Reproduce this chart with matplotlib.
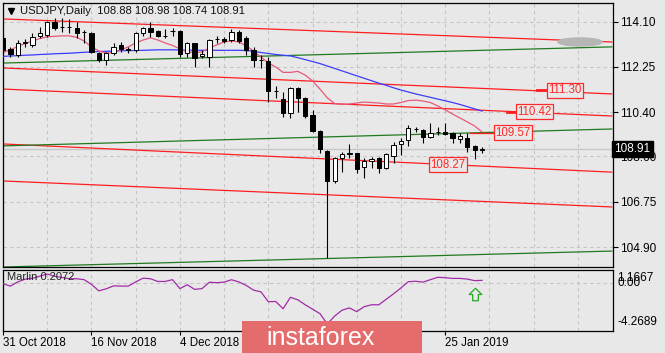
import numpy as np
import pandas as pd
import matplotlib
matplotlib.use("Agg")
import matplotlib.pyplot as plt
import matplotlib.transforms as mtransforms
from matplotlib.patches import Rectangle, Ellipse
from matplotlib.path import Path

plt.rcParams['font.family'] = ['Liberation Sans', 'DejaVu Sans']

# daily bars, 31 Oct 2018 .. 1 Feb 2019 (no bars on 25 Dec and 1 Jan)
days = pd.bdate_range('2018-10-31', '2019-02-01')
days = days[~days.isin(pd.to_datetime(['2018-12-25', '2019-01-01']))]

opens = [113.44, 112.97, 112.74, 113.23, 113.15, 113.52, 113.56, 114.10, 113.90, 113.88,
         113.83, 113.68, 113.65, 112.81, 112.54, 112.81, 113.15, 112.97, 112.95, 113.63,
         113.83, 113.71, 113.52, 113.72, 113.71, 112.82, 113.22, 112.68, 112.64, 113.38,
         113.41, 113.35, 113.69, 113.42, 112.95, 112.52, 112.50, 111.26, 110.95, 110.36,
         111.38, 110.99, 110.29, 109.64, 108.83, 107.60, 108.55, 108.72, 108.73, 108.16,
         108.43, 108.53, 108.12, 108.63, 109.10, 109.27, 109.72, 109.68, 109.38, 109.59,
         109.61, 109.55, 109.30, 109.34, 109.03, 108.88]
highs = [113.60, 113.08, 113.35, 113.38, 113.63, 113.90, 114.13, 114.24, 114.24, 114.20,
         114.10, 113.76, 113.69, 112.88, 112.88, 113.22, 113.28, 113.08, 113.69, 113.90,
         114.10, 113.76, 113.79, 113.86, 113.74, 113.28, 113.24, 112.95, 113.38, 113.52,
         113.48, 113.79, 113.76, 113.52, 113.07, 112.74, 112.67, 111.49, 111.24, 111.45,
         111.45, 111.04, 110.50, 109.66, 108.86, 108.59, 108.79, 109.11, 108.75, 108.53,
         108.57, 108.57, 108.75, 109.20, 109.34, 109.88, 109.81, 109.70, 109.98, 109.81,
         109.98, 109.61, 109.55, 109.57, 109.07, 108.98]
lows = [112.82, 112.67, 112.67, 113.08, 113.08, 113.44, 113.49, 113.76, 113.69, 113.63,
        113.42, 113.23, 112.84, 112.47, 112.33, 112.74, 112.88, 112.81, 112.88, 113.52,
        113.49, 113.46, 113.42, 113.50, 112.67, 112.67, 112.26, 112.61, 112.26, 113.23,
        113.22, 113.28, 113.22, 112.74, 112.26, 112.21, 110.84, 110.97, 110.22, 110.16,
        110.43, 110.16, 109.61, 108.73, 104.44, 107.50, 107.98, 108.53, 107.94, 107.73,
        108.12, 107.94, 108.08, 108.32, 108.66, 109.03, 109.61, 109.14, 109.34, 109.48,
        109.48, 109.16, 109.14, 108.77, 108.48, 108.74]
closes = [112.95, 112.77, 113.22, 113.25, 113.49, 113.63, 114.10, 113.83, 113.88, 113.90,
          113.63, 113.66, 112.88, 112.54, 112.81, 113.08, 112.97, 112.95, 113.63, 113.83,
          113.69, 113.50, 113.53, 113.73, 112.78, 113.22, 112.62, 112.77, 113.35, 113.40,
          113.31, 113.67, 113.31, 112.95, 112.54, 112.54, 111.27, 111.28, 110.36, 111.38,
          110.97, 110.25, 109.64, 108.90, 107.61, 108.53, 108.70, 108.74, 108.09, 108.43,
          108.51, 108.12, 108.70, 109.07, 109.24, 109.75, 109.70, 109.41, 109.57, 109.61,
          109.52, 109.34, 109.44, 109.00, 108.86, 108.91]

ma_fast = [112.84, 112.95, 113.09, 113.21, 113.31, 113.41, 113.48, 113.50, 113.52, 113.52,
           113.46, 113.31, 113.07, 112.90, 112.82, 112.84, 112.95, 113.07, 113.23, 113.35,
           113.44, 113.35, 113.23, 113.13, 112.99, 112.86, 112.84, 112.86, 113.03, 113.15,
           113.27, 113.31, 113.27, 113.11, 112.90, 112.66, 112.41, 112.25, 112.03, 112.03,
           112.07, 111.92, 111.68, 111.35, 110.99, 110.76, 110.72, 110.74, 110.78, 110.82,
           110.80, 110.78, 110.74, 110.74, 110.80, 110.88, 110.90, 110.86, 110.80, 110.66,
           110.50, 110.33, 110.17, 110.01, 109.84, 109.60]
ma_slow = [112.68, 112.70, 112.71, 112.73, 112.74, 112.76, 112.77, 112.79, 112.80, 112.81,
           112.83, 112.85, 112.86, 112.88, 112.89, 112.90, 112.91, 112.92, 112.92, 112.93,
           112.94, 112.95, 112.95, 112.95, 112.94, 112.94, 112.93, 112.93, 112.93, 112.93,
           112.93, 112.93, 112.93, 112.92, 112.89, 112.84, 112.80, 112.76, 112.73, 112.70,
           112.63, 112.55, 112.47, 112.39, 112.29, 112.19, 112.09, 111.99, 111.89, 111.79,
           111.69, 111.59, 111.50, 111.40, 111.31, 111.23, 111.15, 111.08, 111.01, 110.94,
           110.87, 110.80, 110.72, 110.63, 110.54, 110.45]
marlin = [-0.09, -0.30, 0.07, 0.31, 0.39, 0.58, 0.77, 0.57, 0.46, 0.35,
          0.35, 0.27, -0.15, -0.72, -0.54, -0.28, -0.30, -0.30, 0.07, 0.40,
          0.35, 0.11, 0.11, 0.27, -0.52, -0.18, -0.59, -0.52, 0.04, 0.00,
          0.05, 0.26, 0.07, -0.24, -0.66, -0.81, -1.68, -1.66, -2.30, -1.29,
          -1.51, -1.95, -2.34, -2.73, -3.65, -2.95, -2.43, -2.23, -2.56, -2.12,
          -1.95, -1.95, -1.46, -0.98, -0.46, 0.09, 0.13, 0.05, 0.27, 0.48,
          0.44, 0.38, 0.38, 0.32, 0.18, 0.2072]
marlin_max, marlin_min = 1.1667, -4.2689

# trend lines: price at bar 0 and at right edge
line_end_bar = 82.6
red_start = [114.21, 112.21, 111.35, 109.11, 107.60]
red_end = [113.27, 111.15, 110.25, 107.96, 106.54]
green_start = [112.41, 109.03, 104.09]
green_end = [113.07, 109.72, 104.74]

# price labels drawn on the chart
label_text = ['111.30', '110.42', '109.57', '108.27']
label_bar = [76.2, 72.1, 69.2, 60.4]
label_dash = [(72.5, 73.8), (68.4, 69.7), (63.4, 66.6), None]

price_ticks = [114.10, 112.25, 110.40, 108.60, 106.75, 104.90]
last_price = 108.91
signal_bar, signal_val = 64, -1.0
date_ticks = [0, 12, 24, 60]   # the others sit under the logo

bg = '#e8e8e8'
grid_c = '#c4c4c4'

fig = plt.figure(figsize=(6.65, 3.53), dpi=100, facecolor=bg)
ax = fig.add_axes([2.5 / 665, 86 / 353, 610 / 665, 264 / 353])
ax2 = fig.add_axes([2.5 / 665, 22 / 353, 610 / 665, 61.5 / 353])

n = len(opens)
x = np.arange(n)
xlim = (-0.07, 82.7)

for a in (ax, ax2):
    a.set_facecolor(bg)
    a.set_xlim(*xlim)
    for s in a.spines.values():
        s.set_color('black')
        s.set_linewidth(0.9)
    for gx in range(6, 83, 6):
        a.axvline(gx, color=grid_c, lw=0.8, ls=(0, (3, 3)), zorder=0)

ax.set_ylim(104.09, 114.86)
for p in price_ticks:
    ax.axhline(p, color=grid_c, lw=0.8, ls=(0, (3, 3)), zorder=0)
ax.axhline(last_price, color='#c8c8c8', lw=1.0, zorder=1)

# trend lines
for a0, a1 in zip(red_start, red_end):
    ax.plot([0, line_end_bar], [a0, a1], color='#ff1e1e', lw=0.9, zorder=2)
for a0, a1 in zip(green_start, green_end):
    ax.plot([0, line_end_bar], [a0, a1], color='#1f7a1f', lw=0.9, zorder=2)

ax.add_patch(Ellipse((78.3, 113.27), 6.0, 0.33, color='#b6b6b6', zorder=2))

ax.plot(x, ma_slow, color='#3c3cff', lw=0.9, zorder=3)
ax.plot(x, ma_fast, color='#e8587a', lw=0.9, zorder=3)

# candles
o = np.array(opens)
c = np.array(closes)
ax.vlines(x, lows, highs, color='black', lw=0.8, zorder=4)
body_lo = np.minimum(o, c)
body_h = np.maximum(np.abs(c - o), 0.005)
ax.bar(x, body_h, bottom=body_lo, width=0.58,
       color=np.where(c >= o, 'white', 'black'), edgecolor='black', lw=0.7, zorder=5)

# price labels
for t, b, d in zip(label_text, label_bar, label_dash):
    p = float(t)
    if d is not None:
        lw = 0.9 if d[1] - d[0] > 2 else 2.0
        ax.plot(d, [p, p], color='#ff1e1e', lw=lw, zorder=6)
    ax.text(b, p, t, ha='center', va='center', fontsize=8.3, color='#ff2a2a', zorder=7,
            bbox=dict(boxstyle='square,pad=0.12', fc=bg, ec='#ff2a2a', lw=0.9))

ax.yaxis.tick_right()
ax.set_yticks(price_ticks)
ax.set_yticklabels([f'{p:.2f}' for p in price_ticks])
ax.tick_params(axis='y', length=3.5, width=0.8, pad=2, labelsize=8.5, colors='black')
ax.set_xticks([])

trans = mtransforms.blended_transform_factory(ax.transAxes, ax.transData)
ax.text(1.003, last_price, f'{last_price:.2f}', transform=trans, ha='left', va='center',
        fontsize=8.5, color='white', zorder=8, clip_on=False,
        bbox=dict(boxstyle='square,pad=0.18', fc='black', ec='black'))

# title
ax.plot([0.0139], [0.970], marker='v', ms=5, color='black', transform=ax.transAxes, clip_on=False)
ax.text(17.5 / 610, 0.970, 'USDJPY,Daily  108.88 108.98 108.74 108.91', transform=ax.transAxes,
        ha='left', va='center', fontsize=8.1, color='#101010')

# indicator pane
ax2.set_ylim(marlin_min, marlin_max)
ax2.axhline(0, color=grid_c, lw=0.8, ls=(0, (3, 3)), zorder=0)
ax2.plot(x, marlin, color='#a02ca8', lw=0.9, zorder=3)
arrow = Path([(0, 1), (1, 0), (0.45, 0), (0.45, -1), (-0.45, -1), (-0.45, 0), (-1, 0), (0, 1)], closed=True)
ax2.plot([signal_bar], [signal_val], marker=arrow, ms=9, mfc='none', mec='#22aa22', mew=0.9, zorder=4)
ax2.text(4.5 / 610, 0.875, f'Marlin {marlin[-1]:.4f}', transform=ax2.transAxes,
         ha='left', va='center', fontsize=8, color='#202020', zorder=5)

ax2.yaxis.tick_right()
ax2.set_yticks([])
tr2 = mtransforms.blended_transform_factory(ax2.transAxes, ax2.transData)
for v, va, dy in [(marlin_max, 'top', -1.5), (0.0, 'center', 0), (marlin_min, 'bottom', 2)]:
    ax2.annotate(f'{v:.4f}' if v != 0 else '0.00', xy=(1.0, v), xycoords=tr2,
                 xytext=(3.5, dy), textcoords='offset points', ha='left', va=va,
                 fontsize=8.5, color='black', annotation_clip=False)

ax2.set_xticks(date_ticks)
ax2.set_xticklabels([f'{days[i].day} {days[i]:%b %Y}' for i in date_ticks], ha='left')
ax2.tick_params(axis='x', length=3, width=0.8, pad=1.5, labelsize=8.3, colors='black')

# watermark logo
fig.add_artist(Rectangle((242 / 665, 0), 180 / 665, 32 / 353, transform=fig.transFigure,
                         fc='#e46c6c', ec='none', zorder=20))
fig.text(321 / 665, 15 / 353, 'instaforex', ha='center', va='center', fontsize=18,
         color='white', zorder=21)

fig.savefig('out.png', dpi=100, facecolor=bg)
